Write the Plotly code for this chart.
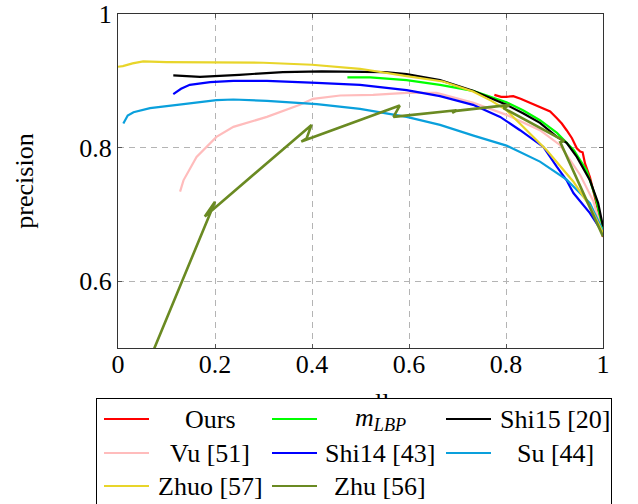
import plotly.graph_objects as go

# ---------------- data ----------------
ours_x = [0.776, 0.790, 0.801, 0.815, 0.830, 0.843, 0.857, 0.870, 0.883, 0.891, 0.905, 0.915,
          0.925, 0.936, 0.946, 0.953, 0.958, 0.963, 0.973, 0.983, 0.993, 1.0]
ours_y = [0.879, 0.876, 0.876, 0.877, 0.873, 0.869, 0.865, 0.861, 0.857, 0.854, 0.844, 0.836,
          0.826, 0.814, 0.799, 0.794, 0.793, 0.776, 0.756, 0.727, 0.697, 0.666]

mlbp_x = [0.473, 0.520, 0.595, 0.664, 0.732, 0.801, 0.835, 0.870, 0.905, 0.940, 0.966, 0.985, 1.0]
mlbp_y = [0.905, 0.905, 0.901, 0.894, 0.885, 0.868, 0.856, 0.841, 0.822, 0.796, 0.766, 0.725, 0.677]

shi15_x = [0.114, 0.169, 0.250, 0.340, 0.420, 0.499, 0.550, 0.595, 0.664, 0.732, 0.767, 0.801,
           0.836, 0.870, 0.905, 0.925, 0.946, 0.973, 0.990, 1.0]
shi15_y = [0.908, 0.906, 0.909, 0.913, 0.914, 0.913, 0.913, 0.910, 0.901, 0.885, 0.874, 0.864,
           0.851, 0.837, 0.816, 0.807, 0.786, 0.751, 0.717, 0.682]

vu_x = [0.128, 0.135, 0.162, 0.203, 0.238, 0.307, 0.375, 0.402, 0.458, 0.526, 0.595, 0.657,
        0.733, 0.801, 0.870, 0.911, 0.953, 0.980, 1.0]
vu_y = [0.734, 0.751, 0.786, 0.816, 0.831, 0.846, 0.864, 0.873, 0.878, 0.879, 0.882, 0.882,
        0.867, 0.849, 0.826, 0.804, 0.759, 0.720, 0.669]

shi14_x = [0.114, 0.130, 0.148, 0.190, 0.238, 0.307, 0.410, 0.499, 0.595, 0.664, 0.732, 0.788,
           0.829, 0.843, 0.877, 0.905, 0.925, 0.939, 0.973, 1.0]
shi14_y = [0.880, 0.888, 0.894, 0.898, 0.900, 0.900, 0.897, 0.894, 0.886, 0.877, 0.864, 0.846,
           0.826, 0.819, 0.801, 0.771, 0.751, 0.732, 0.702, 0.672]

su_x = [0.011, 0.020, 0.032, 0.066, 0.135, 0.203, 0.238, 0.307, 0.410, 0.499, 0.595, 0.664,
        0.733, 0.801, 0.870, 0.925, 0.973, 1.0]
su_y = [0.836, 0.848, 0.853, 0.859, 0.865, 0.871, 0.872, 0.870, 0.865, 0.858, 0.846, 0.834,
        0.818, 0.803, 0.779, 0.752, 0.717, 0.675]

zhuo_x = [0.0, 0.010, 0.030, 0.052, 0.100, 0.150, 0.237, 0.300, 0.400, 0.458, 0.499, 0.595,
          0.670, 0.732, 0.770, 0.801, 0.843, 0.884, 0.939, 0.973, 1.0]
zhuo_y = [0.921, 0.922, 0.926, 0.929, 0.928, 0.928, 0.928, 0.927, 0.924, 0.921, 0.918, 0.907,
          0.899, 0.884, 0.870, 0.856, 0.826, 0.796, 0.749, 0.712, 0.672]

zhu_x = [0.074, 0.200, 0.179, 0.399, 0.389, 0.378, 0.581, 0.568, 0.698, 0.689, 0.697, 0.808,
         0.795, 0.920, 0.912, 1.0]
zhu_y = [0.498, 0.719, 0.697, 0.834, 0.814, 0.809, 0.863, 0.846, 0.856, 0.852, 0.855, 0.864,
         0.859, 0.810, 0.808, 0.667]

names = ["Ours", "<i>m</i><sub><i>LBP</i></sub>", "Shi15 [20]", "Vu [51]", "Shi14 [43]",
         "Su [44]", "Zhuo [57]", "Zhu [56]"]
colors = ["#ff0000", "#00ff00", "#000000", "#ffbcbc", "#0000ff", "#0aa0dc", "#e8d52a", "#6a8a22"]
widths = [2.2, 2.2, 2.2, 2.2, 2.2, 2.2, 2.2, 2.6]
series = [(ours_x, ours_y), (mlbp_x, mlbp_y), (shi15_x, shi15_y), (vu_x, vu_y),
          (shi14_x, shi14_y), (su_x, su_y), (zhuo_x, zhuo_y), (zhu_x, zhu_y)]

x_ticks = [0, 0.2, 0.4, 0.6, 0.8, 1]
x_ticktext = ["0", "0.2", "0.4", "0.6", "0.8", "1"]
y_ticks = [0.6, 0.8, 1]
y_ticktext = ["0.6", "0.8", "1"]

FONT = "Liberation Serif"
W, H = 638, 504
ML, MR, MT, MB = 118, 35, 14, 156
PW, PH = W - ML - MR, H - MT - MB


def px_x(p):  # pixel -> paper x
    return (p - ML) / PW


def px_y(p):  # pixel -> paper y
    return (H - MB - p) / PH


fig = go.Figure()
for (xs, ys), name, col, lw in zip(series, names, colors, widths):
    fig.add_trace(go.Scatter(x=xs, y=ys, mode="lines", name=name, showlegend=False,
                             line=dict(color=col, width=lw)))

axis_common = dict(
    showline=True, linecolor="#333333", linewidth=1, mirror="all",
    ticks="inside", ticklen=4, tickcolor="#555555",
    showgrid=True, gridcolor="#b4b4b4", gridwidth=1, griddash="6px,5px",
    zeroline=False, automargin=False,
    tickfont=dict(family=FONT, size=26, color="black"),
)

fig.update_xaxes(range=[0, 1], tickvals=x_ticks, ticktext=x_ticktext, ticklabelstandoff=-7,
                 title=dict(text="recall", font=dict(family=FONT, size=26, color="black"),
                            standoff=14),
                 **axis_common)
fig.update_yaxes(range=[0.5, 1], tickvals=y_ticks, ticktext=y_ticktext,
                 title=dict(text="precision", font=dict(family=FONT, size=26, color="black"),
                            standoff=38),
                 **axis_common)

# ---- legend drawn as annotations (so that it sits above the x-axis title, as in the reference)
annotations = [dict(
    xref="paper", yref="paper", x=px_x(96), y=px_y(398), xanchor="left", yanchor="top",
    text=" ", showarrow=False, width=514, height=112, borderpad=0,
    bgcolor="white", bordercolor="black", borderwidth=1,
)]
col_line_center = [126.5, 294.5, 468]
col_text_center = [210, 380, 555]
row_y = [419, 453, 486]
for i, (name, col) in enumerate(zip(names, colors)):
    r, c = divmod(i, 3)
    annotations.append(dict(
        xref="paper", yref="paper", x=px_x(col_line_center[c]), y=px_y(row_y[r]),
        xanchor="center", yanchor="middle", text=" ", showarrow=False,
        width=45, height=2, borderpad=0, borderwidth=0, bgcolor=col,
        font=dict(size=1),
    ))
for i, name in enumerate(names):
    r, c = divmod(i, 3)
    annotations.append(dict(
        xref="paper", yref="paper", x=px_x(col_text_center[c]), y=px_y(row_y[r]),
        xanchor="center", yanchor="middle", text=name, showarrow=False,
        font=dict(family=FONT, size=26, color="black"),
    ))

fig.update_layout(
    width=W, height=H,
    margin=dict(l=ML, r=MR, t=MT, b=MB, autoexpand=False),
    paper_bgcolor="white", plot_bgcolor="white",
    font=dict(family=FONT, size=26, color="black"),
    showlegend=False,
    annotations=annotations,
)

fig.write_html("out.html")
